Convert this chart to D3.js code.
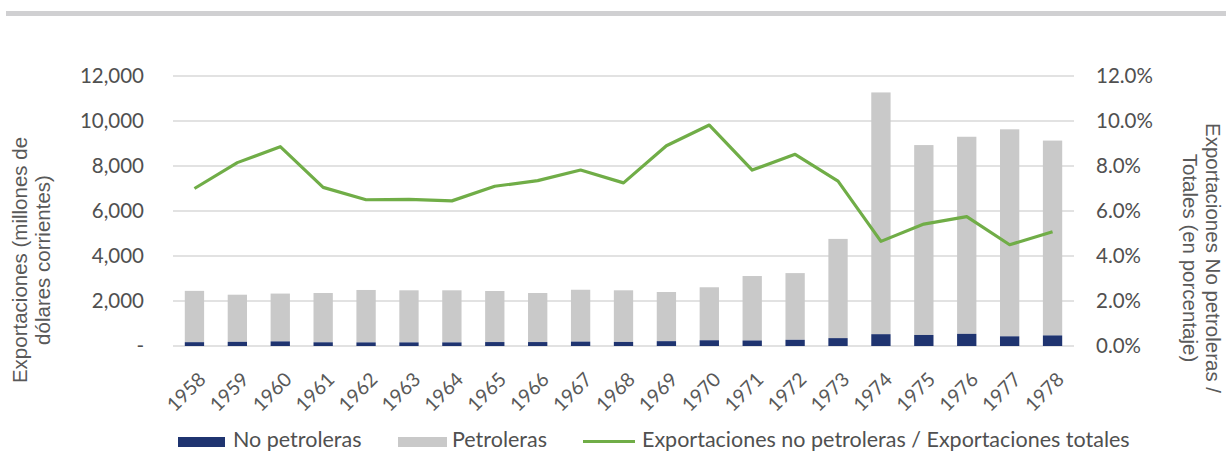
<!DOCTYPE html>
<meta charset="utf-8">
<script src="https://d3js.org/d3.v7.min.js"></script>
<style>
  body { margin: 0; background: #fff; }
  text { font-family: Lato, "Open Sans", sans-serif; }
</style>
<div id="my_dataviz"></div>
<script>

// data
const years = ["1958","1959","1960","1961","1962","1963","1964","1965","1966","1967",
               "1968","1969","1970","1971","1972","1973","1974","1975","1976","1977","1978"];
const noPetroleras = [170, 185, 205, 165, 160, 160, 160, 175, 175, 195,
                      180, 215, 255, 245, 275, 350, 525, 490, 540, 430, 470];
const petroleras = [2280, 2095, 2125, 2190, 2330, 2315, 2315, 2270, 2180, 2305,
                    2295, 2185, 2355, 2865, 2965, 4410, 10745, 8440, 8760, 9200, 8660];
const ratio = [0.0700, 0.0815, 0.0886, 0.0705, 0.0650, 0.0652, 0.0645, 0.0710, 0.0735, 0.0782,
               0.0725, 0.0890, 0.0982, 0.0782, 0.0852, 0.0733, 0.0465, 0.0542, 0.0575, 0.0450, 0.0508];
const leftTicks = [0, 2000, 4000, 6000, 8000, 10000, 12000];
const rightTicks = [0, 0.02, 0.04, 0.06, 0.08, 0.10, 0.12];

const W = 1226, H = 452;
const plot = {left: 173, right: 1074, top: 76, bottom: 346};
const grey = "#595959";

const svg = d3.select("#my_dataviz")
  .append("svg")
    .attr("width", W)
    .attr("height", H);

// thin grey band at the very top
svg.append("rect")
  .attr("x", 6).attr("y", 11).attr("width", W - 6).attr("height", 5)
  .style("fill", "#d0d0d2");

const x = d3.scaleBand()
  .domain(years)
  .range([plot.left, plot.right])
  .paddingInner(0.55)
  .paddingOuter(0.275);

const y = d3.scaleLinear().domain([0, 12000]).range([plot.bottom, plot.top]);
const yR = d3.scaleLinear().domain([0, 0.12]).range([plot.bottom, plot.top]);

// gridlines
svg.append("g")
  .selectAll("line")
  .data(leftTicks)
  .join("line")
    .attr("x1", plot.left).attr("x2", plot.right)
    .attr("y1", d => y(d)).attr("y2", d => y(d))
    .style("stroke", "#d9d9d9")
    .style("stroke-width", 1.3);

// left axis labels
const fmtLeft = d => d === 0 ? "-" : d3.format(",")(d);
svg.append("g")
  .selectAll("text")
  .data(leftTicks)
  .join("text")
    .attr("x", 144)
    .attr("y", d => y(d))
    .attr("dy", "0.35em")
    .attr("text-anchor", "end")
    .style("font-size", "20.5px")
    .style("fill", "#505050")
    .text(fmtLeft);

// right axis labels
svg.append("g")
  .selectAll("text")
  .data(rightTicks)
  .join("text")
    .attr("x", 1096)
    .attr("y", d => yR(d))
    .attr("dy", "0.35em")
    .attr("text-anchor", "start")
    .style("font-size", "20.5px")
    .style("fill", "#505050")
    .text(d => d3.format(".1%")(d));

// stacked bars
const rows = years.map((yr, i) => ({year: yr, no: noPetroleras[i], pet: petroleras[i]}));

svg.append("g")
  .selectAll("rect")
  .data(rows)
  .join("rect")
    .attr("x", d => x(d.year))
    .attr("width", x.bandwidth())
    .attr("y", d => y(d.no + d.pet))
    .attr("height", d => y(d.no) - y(d.no + d.pet))
    .style("fill", "#c9c9c9");

svg.append("g")
  .selectAll("rect")
  .data(rows)
  .join("rect")
    .attr("x", d => x(d.year))
    .attr("width", x.bandwidth())
    .attr("y", d => y(d.no))
    .attr("height", d => y(0) - y(d.no))
    .style("fill", "#1f3470");

// ratio line
const line = d3.line()
  .x((d, i) => x(years[i]) + x.bandwidth() / 2)
  .y(d => yR(d));

svg.append("path")
  .datum(ratio)
  .attr("d", line)
  .style("fill", "none")
  .style("stroke", "#70ad47")
  .style("stroke-width", 3.2)
  .style("stroke-linejoin", "round");

// year labels, rotated
svg.append("g")
  .selectAll("text")
  .data(years)
  .join("text")
    .attr("text-anchor", "end")
    .attr("transform", d => `translate(${x(d) + x.bandwidth() / 2 + 3},${371}) rotate(-45)`)
    .attr("dy", "0.7em")
    .style("font-size", "19.5px")
    .style("fill", grey)
    .text(d => d);

// axis titles
const leftTitle = svg.append("text")
  .attr("transform", "translate(27,260) rotate(-90)")
  .attr("text-anchor", "middle")
  .style("font-family", "'Liberation Sans', Arial, sans-serif")
  .style("font-size", "20.5px")
  .style("fill", grey);
leftTitle.append("tspan").attr("x", 0).attr("y", 0).text("Exportaciones (millones de");
leftTitle.append("tspan").attr("x", 0).attr("y", 23).text("dólares corrientes)");

const rightTitle = svg.append("text")
  .attr("transform", "translate(1206,258) rotate(90)")
  .attr("text-anchor", "middle")
  .style("font-family", "'Liberation Sans', Arial, sans-serif")
  .style("font-size", "20.5px")
  .style("fill", grey);
rightTitle.append("tspan").attr("x", 0).attr("y", 0).text("Exportaciones No petroleras /");
rightTitle.append("tspan").attr("x", 0).attr("y", 23).text("Totales (en porcentaje)");

// legend
svg.append("rect").attr("x", 178).attr("y", 437).attr("width", 47).attr("height", 10).style("fill", "#1f3470");
svg.append("text").attr("x", 233).attr("y", 447).text("No petroleras")
  .style("font-size", "21.5px").style("fill", "#505050");
svg.append("rect").attr("x", 398).attr("y", 437).attr("width", 49).attr("height", 10).style("fill", "#c9c9c9");
svg.append("text").attr("x", 452).attr("y", 447).text("Petroleras")
  .style("font-size", "21.5px").style("fill", "#505050");
svg.append("line").attr("x1", 583).attr("x2", 635).attr("y1", 441.5).attr("y2", 441.5)
  .style("stroke", "#70ad47").style("stroke-width", 3.2);
svg.append("text").attr("x", 642).attr("y", 447).text("Exportaciones no petroleras / Exportaciones totales")
  .style("font-size", "21.5px").style("fill", "#505050");

</script>
